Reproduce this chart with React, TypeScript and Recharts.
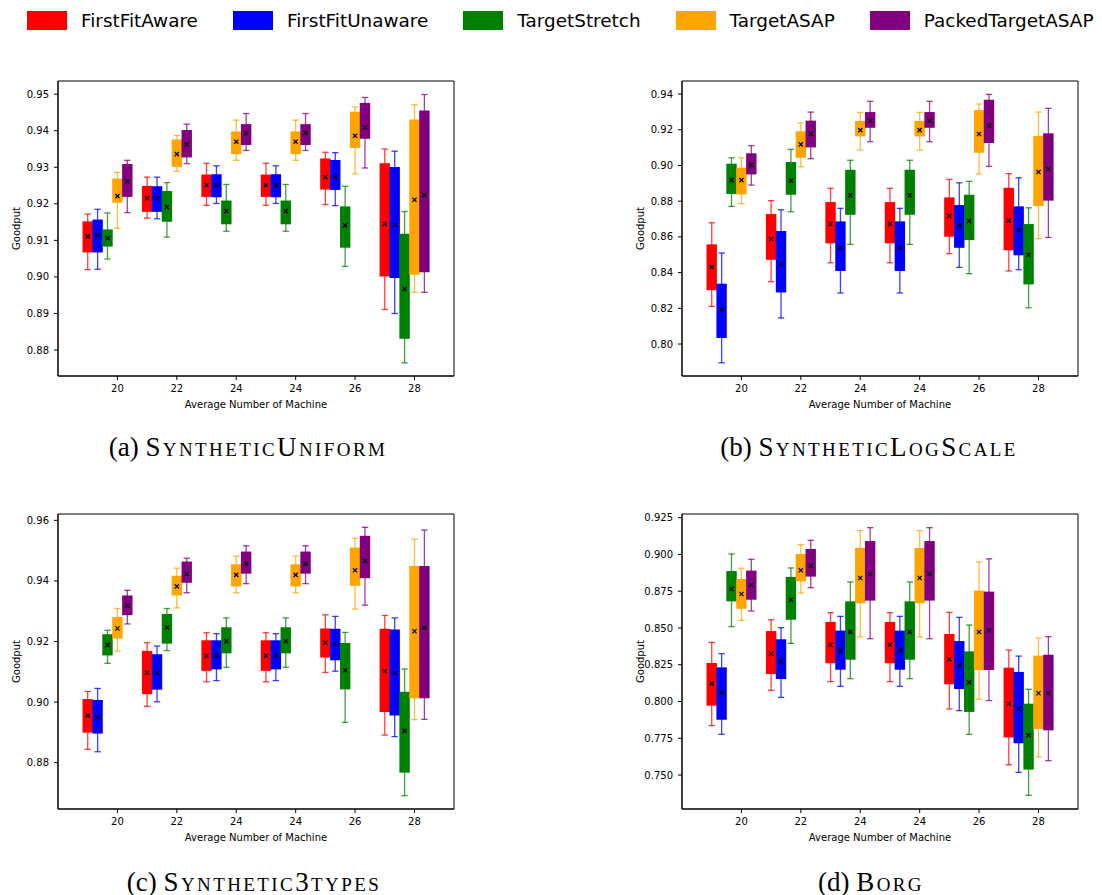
import React from "react";
import { ScatterChart, Scatter, XAxis, YAxis, ErrorBar, ReferenceArea } from "recharts";

const groupLabels = ["20", "22", "24", "24", "26", "28"];
const seriesNames = ["FirstFitAware", "FirstFitUnaware", "TargetStretch", "TargetASAP", "PackedTargetASAP"];
const seriesColors = ["#ff0000", "#0000ff", "#008000", "#ffa500", "#800080"];

// each row: [whisker low, q1, mean, q3, whisker high], one row per group
const uniformFFA = [
  [0.902, 0.9067, 0.9111, 0.9152, 0.9172],
  [0.9161, 0.9178, 0.9215, 0.9249, 0.9273],
  [0.9196, 0.9219, 0.9251, 0.928, 0.9311],
  [0.9196, 0.9219, 0.9251, 0.928, 0.9311],
  [0.9198, 0.9239, 0.9273, 0.9324, 0.9341],
  [0.8911, 0.9001, 0.9145, 0.9311, 0.935],
];
const uniformFFU = [
  [0.9021, 0.9067, 0.9114, 0.9157, 0.9185],
  [0.9159, 0.9178, 0.9215, 0.9248, 0.9273],
  [0.9201, 0.9218, 0.9251, 0.9281, 0.9304],
  [0.9201, 0.9218, 0.9251, 0.9281, 0.9304],
  [0.9195, 0.9238, 0.9273, 0.932, 0.934],
  [0.89, 0.8997, 0.9142, 0.9301, 0.9344],
];
const uniformTS = [
  [0.9049, 0.9083, 0.9106, 0.913, 0.9175],
  [0.9109, 0.9151, 0.9191, 0.9235, 0.9258],
  [0.9125, 0.9144, 0.918, 0.9209, 0.9253],
  [0.9125, 0.9144, 0.918, 0.9209, 0.9253],
  [0.9029, 0.908, 0.9141, 0.9193, 0.9248],
  [0.8765, 0.8831, 0.8967, 0.9118, 0.9179],
];
const uniformTA = [
  [0.9133, 0.9203, 0.9221, 0.9269, 0.9286],
  [0.9289, 0.9301, 0.9336, 0.9376, 0.9387],
  [0.9319, 0.9336, 0.937, 0.9398, 0.9429],
  [0.9319, 0.9336, 0.937, 0.9398, 0.9429],
  [0.9282, 0.9353, 0.9386, 0.9452, 0.9465],
  [0.8958, 0.9006, 0.9211, 0.9431, 0.9471],
];
const uniformPTA = [
  [0.9176, 0.9219, 0.9261, 0.9309, 0.9319],
  [0.931, 0.9327, 0.9363, 0.9402, 0.9418],
  [0.9346, 0.9361, 0.9394, 0.9418, 0.9447],
  [0.9346, 0.9361, 0.9394, 0.9418, 0.9447],
  [0.9298, 0.9378, 0.9409, 0.9476, 0.9491],
  [0.8958, 0.9013, 0.9224, 0.9455, 0.9499],
];

const logFFA = [
  [0.8211, 0.8302, 0.8431, 0.8558, 0.8679],
  [0.8349, 0.8472, 0.8588, 0.8728, 0.8803],
  [0.8455, 0.8564, 0.8672, 0.8795, 0.8872],
  [0.8455, 0.8564, 0.8672, 0.8795, 0.8872],
  [0.8506, 0.8601, 0.8717, 0.8821, 0.8922],
  [0.8409, 0.8525, 0.8691, 0.8875, 0.8954],
];
const logFFU = [
  [0.7895, 0.8034, 0.8194, 0.8338, 0.851],
  [0.8146, 0.8289, 0.8448, 0.8633, 0.8752],
  [0.8286, 0.8409, 0.8539, 0.8687, 0.876],
  [0.8286, 0.8409, 0.8539, 0.8687, 0.876],
  [0.8429, 0.8539, 0.8663, 0.8778, 0.8903],
  [0.8416, 0.8497, 0.8638, 0.8771, 0.8931],
];
const logTS = [
  [0.8771, 0.884, 0.8918, 0.901, 0.9043],
  [0.8741, 0.8836, 0.8915, 0.9019, 0.909],
  [0.8558, 0.8724, 0.8833, 0.8976, 0.9029],
  [0.8558, 0.8724, 0.8833, 0.8976, 0.9029],
  [0.8394, 0.8582, 0.8689, 0.8836, 0.8911],
  [0.8203, 0.8334, 0.85, 0.8672, 0.8763],
];
const logTA = [
  [0.8786, 0.8838, 0.8918, 0.8987, 0.9043],
  [0.8993, 0.9043, 0.9118, 0.9191, 0.9238],
  [0.9086, 0.9163, 0.9198, 0.9249, 0.9297],
  [0.9086, 0.9163, 0.9198, 0.9249, 0.9297],
  [0.8952, 0.9071, 0.9176, 0.931, 0.9344],
  [0.859, 0.8773, 0.8963, 0.9165, 0.9299],
];
const logPTA = [
  [0.889, 0.895, 0.9002, 0.9068, 0.9111],
  [0.9038, 0.9101, 0.9178, 0.9251, 0.9299],
  [0.9133, 0.9211, 0.9249, 0.9299, 0.9359],
  [0.9133, 0.9211, 0.9249, 0.9299, 0.9359],
  [0.8995, 0.9126, 0.9223, 0.9368, 0.9398],
  [0.8597, 0.8803, 0.898, 0.918, 0.932],
];

const threeFFA = [
  [0.8844, 0.8899, 0.8956, 0.901, 0.9035],
  [0.8986, 0.9026, 0.9097, 0.9169, 0.9196],
  [0.9067, 0.9103, 0.9153, 0.9204, 0.9229],
  [0.9067, 0.9103, 0.9153, 0.9204, 0.9229],
  [0.9098, 0.9147, 0.9196, 0.9243, 0.9288],
  [0.8891, 0.8967, 0.9102, 0.9242, 0.9286],
];
const threeFFU = [
  [0.8836, 0.8896, 0.895, 0.9007, 0.9045],
  [0.9001, 0.9041, 0.9097, 0.9158, 0.9185],
  [0.9071, 0.9108, 0.9153, 0.9204, 0.9226],
  [0.9071, 0.9108, 0.9153, 0.9204, 0.9226],
  [0.9102, 0.9138, 0.9192, 0.9242, 0.9283],
  [0.8886, 0.8956, 0.9096, 0.924, 0.9278],
];
const threeTS = [
  [0.9128, 0.9154, 0.9188, 0.9224, 0.9237],
  [0.917, 0.9193, 0.9246, 0.9291, 0.9309],
  [0.9115, 0.9161, 0.9201, 0.9247, 0.9278],
  [0.9115, 0.9161, 0.9201, 0.9247, 0.9278],
  [0.8933, 0.9042, 0.9105, 0.9195, 0.923],
  [0.8691, 0.8767, 0.8905, 0.9034, 0.9109],
];
const threeTA = [
  [0.9168, 0.921, 0.9243, 0.9281, 0.9309],
  [0.9311, 0.9352, 0.9382, 0.9417, 0.9442],
  [0.9361, 0.9382, 0.942, 0.9455, 0.9482],
  [0.9361, 0.9382, 0.942, 0.9455, 0.9482],
  [0.9307, 0.9384, 0.9435, 0.951, 0.9541],
  [0.8942, 0.9013, 0.9234, 0.9449, 0.9538],
];
const threePTA = [
  [0.9258, 0.9287, 0.9319, 0.9352, 0.9369],
  [0.9361, 0.9394, 0.9423, 0.9464, 0.9475],
  [0.9391, 0.9424, 0.9457, 0.9497, 0.9516],
  [0.9391, 0.9424, 0.9457, 0.9497, 0.9516],
  [0.932, 0.9409, 0.9466, 0.9549, 0.9577],
  [0.8943, 0.9013, 0.9246, 0.9449, 0.9568],
];

const borgFFA = [
  [0.7836, 0.7972, 0.8123, 0.8262, 0.8402],
  [0.8076, 0.8187, 0.8325, 0.8479, 0.8556],
  [0.8135, 0.826, 0.8386, 0.8541, 0.8604],
  [0.8135, 0.826, 0.8386, 0.8541, 0.8604],
  [0.7949, 0.8117, 0.8287, 0.8459, 0.8606],
  [0.757, 0.7756, 0.7985, 0.823, 0.835],
];
const borgFFU = [
  [0.7777, 0.7876, 0.806, 0.8232, 0.8325],
  [0.8028, 0.8153, 0.8271, 0.8423, 0.8502],
  [0.8103, 0.8216, 0.8346, 0.8482, 0.8579],
  [0.8103, 0.8216, 0.8346, 0.8482, 0.8579],
  [0.7938, 0.8085, 0.8246, 0.8411, 0.8572],
  [0.7518, 0.7716, 0.7949, 0.8201, 0.8309],
];
const borgTS = [
  [0.8509, 0.8681, 0.8765, 0.8887, 0.9003],
  [0.8395, 0.8556, 0.8692, 0.8847, 0.8908],
  [0.8155, 0.8284, 0.8473, 0.8681, 0.8813],
  [0.8155, 0.8284, 0.8473, 0.8681, 0.8813],
  [0.7777, 0.7929, 0.813, 0.8341, 0.852],
  [0.7362, 0.7537, 0.777, 0.7985, 0.8083],
];
const borgTA = [
  [0.8552, 0.8631, 0.8731, 0.8833, 0.8906],
  [0.8738, 0.8817, 0.8892, 0.9003, 0.9066],
  [0.8439, 0.8668, 0.884, 0.9044, 0.9162],
  [0.8439, 0.8668, 0.884, 0.9044, 0.9162],
  [0.8015, 0.8214, 0.8473, 0.8754, 0.8949],
  [0.7623, 0.7813, 0.8056, 0.8312, 0.8432],
];
const borgPTA = [
  [0.8615, 0.8692, 0.8792, 0.889, 0.8967],
  [0.8774, 0.8849, 0.8924, 0.9037, 0.9096],
  [0.8427, 0.8686, 0.8867, 0.9091, 0.9182],
  [0.8427, 0.8686, 0.8867, 0.9091, 0.9182],
  [0.8006, 0.8214, 0.8484, 0.8747, 0.897],
  [0.7598, 0.7804, 0.8058, 0.8318, 0.8441],
];

const uniformTicks = [0.88, 0.89, 0.9, 0.91, 0.92, 0.93, 0.94, 0.95];
const logTicks = [0.8, 0.82, 0.84, 0.86, 0.88, 0.9, 0.92, 0.94];
const threeTicks = [0.88, 0.9, 0.92, 0.94, 0.96];
const borgTicks = [0.75, 0.775, 0.8, 0.825, 0.85, 0.875, 0.9, 0.925];

const X_MIN = -2;
const X_MAX = 11.33;
const FONT = "'DejaVu Sans', sans-serif";

function toPoints(rows: number[][], seriesIdx: number) {
  // groups sit on 0,2,4,...; the five boxes of a group are offset by 1/3
  return rows.map(([lo, q1, mean, q3, hi], g) => ({
    x: 2 * g - 1 + seriesIdx / 3,
    lo,
    q1,
    mean,
    q3,
    hi,
  }));
}

const MeanMarker = (props: any) => {
  const { cx, cy } = props;
  if (cx == null || cy == null) return <g />;
  const r = 2.1;
  return (
    <path
      d={`M${cx - r},${cy - r}L${cx + r},${cy + r}M${cx + r},${cy - r}L${cx - r},${cy + r}`}
      stroke="#000"
      strokeWidth={1.2}
      fill="none"
    />
  );
};

interface PanelProps {
  left: number;
  top: number;
  series: number[][][];
  yDomain: [number, number];
  yTicks: number[];
  digits: number;
}

function BoxPanel({ left, top, series, yDomain, yTicks, digits }: PanelProps) {
  const tickStyle = { fontSize: 10, fill: "#000", fontFamily: FONT };
  return (
    <div style={{ position: "absolute", left, top }}>
      <ScatterChart width={464} height={342} margin={{ top: 11, right: 10, bottom: 0, left: 8 }}>
        <XAxis
          type="number"
          dataKey="x"
          domain={[X_MIN, X_MAX]}
          allowDataOverflow
          ticks={[0, 2, 4, 6, 8, 10]}
          interval={0}
          tickFormatter={(v: number) => groupLabels[Math.round(v / 2)]}
          height={36}
          stroke="#000"
          tickSize={4}
          tickMargin={5}
          tick={tickStyle}
          label={{
            value: "Average Number of Machine",
            position: "insideBottom",
            offset: 4,
            fontSize: 10,
            fill: "#000",
            fontFamily: FONT,
          }}
        />
        <YAxis
          type="number"
          dataKey="mean"
          domain={yDomain}
          allowDataOverflow
          ticks={yTicks}
          interval={0}
          tickFormatter={(v: number) => v.toFixed(digits)}
          width={50}
          stroke="#000"
          tickSize={4}
          tickMargin={5}
          tick={tickStyle}
          label={{
            value: "Goodput",
            angle: -90,
            position: "insideLeft",
            offset: 8,
            fontSize: 10,
            fill: "#000",
            fontFamily: FONT,
            style: { textAnchor: "middle" },
          }}
        />
        <ReferenceArea
          x1={X_MIN}
          x2={X_MAX}
          y1={yDomain[0]}
          y2={yDomain[1]}
          fill="none"
          fillOpacity={0}
          stroke="#000"
          strokeWidth={1}
          ifOverflow="visible"
        />
        {series.map((rows, i) => (
          <Scatter
            key={seriesNames[i]}
            name={seriesNames[i]}
            data={toPoints(rows, i)}
            dataKey="mean"
            isAnimationActive={false}
            shape={MeanMarker}
          >
            {/* whiskers with caps */}
            <ErrorBar
              dataKey={(d: any) => [d.mean - d.lo, d.hi - d.mean]}
              direction="y"
              width={3.2}
              stroke={seriesColors[i]}
              strokeWidth={1.3}
              strokeOpacity={0.75}
              isAnimationActive={false}
            />
            {/* the box itself, drawn as a thick bar from q1 to q3 */}
            <ErrorBar
              dataKey={(d: any) => [d.mean - d.q1, d.q3 - d.mean]}
              direction="y"
              width={0}
              stroke={seriesColors[i]}
              strokeWidth={10.4}
              isAnimationActive={false}
            />
          </Scatter>
        ))}
      </ScatterChart>
    </div>
  );
}

function Legend() {
  return (
    <div
      style={{
        position: "absolute",
        left: 27,
        top: 10,
        height: 20,
        display: "flex",
        alignItems: "center",
        gap: 35,
        fontFamily: FONT,
        fontSize: 18.4,
        whiteSpace: "nowrap",
      }}
    >
      {seriesNames.map((name, i) => (
        <div key={name} style={{ display: "flex", alignItems: "center" }}>
          <div style={{ width: 40, height: 19, background: seriesColors[i], marginRight: 14 }} />
          <span>{name}</span>
        </div>
      ))}
    </div>
  );
}

function Caption({ cx, cy, tag, title }: { cx: number; cy: number; tag: string; title: string }) {
  return (
    <div
      style={{
        position: "absolute",
        left: cx - 200,
        top: cy - 14,
        width: 400,
        height: 28,
        lineHeight: "28px",
        textAlign: "center",
        fontFamily: "'Liberation Serif', serif",
        fontSize: 27,
        whiteSpace: "nowrap",
      }}
    >
      {tag} <span style={{ fontVariant: "small-caps", letterSpacing: 2.4 }}>{title}</span>
    </div>
  );
}

export default function App() {
  return (
    <div style={{ position: "absolute", left: 0, top: 0, width: 1102, height: 895, background: "#fff" }}>
      <Legend />
      <BoxPanel
        left={0}
        top={70}
        series={[uniformFFA, uniformFFU, uniformTS, uniformTA, uniformPTA]}
        yDomain={[0.8729, 0.9536]}
        yTicks={uniformTicks}
        digits={2}
      />
      <BoxPanel
        left={624}
        top={70}
        series={[logFFA, logFFU, logTS, logTA, logPTA]}
        yDomain={[0.7821, 0.9473]}
        yTicks={logTicks}
        digits={2}
      />
      <BoxPanel
        left={0}
        top={503}
        series={[threeFFA, threeFFU, threeTS, threeTA, threePTA]}
        yDomain={[0.8647, 0.9621]}
        yTicks={threeTicks}
        digits={2}
      />
      <BoxPanel
        left={624}
        top={503}
        series={[borgFFA, borgFFU, borgTS, borgTA, borgPTA]}
        yDomain={[0.7269, 0.9275]}
        yTicks={borgTicks}
        digits={3}
      />
      <Caption cx={248} cy={447} tag="(a)" title="SyntheticUniform" />
      <Caption cx={869} cy={447} tag="(b)" title="SyntheticLogScale" />
      <Caption cx={254} cy={882} tag="(c)" title="Synthetic3types" />
      <Caption cx={871} cy={882} tag="(d)" title="Borg" />
    </div>
  );
}
